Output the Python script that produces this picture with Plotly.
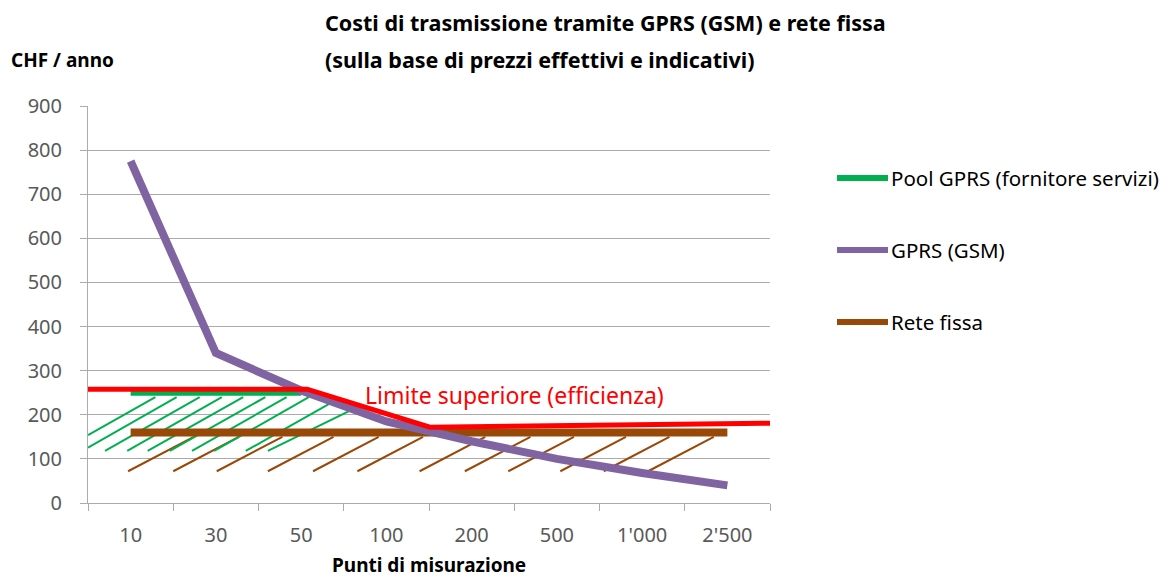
import plotly.graph_objects as go

# ---- data ----
categories = ["10", "30", "50", "100", "200", "500", "1'000", "2'500"]
gprs_gsm = [775, 340, 255, 185, 140, 100, 68, 40]
pool_gprs = [250, 250, 250]              # only 10, 30, 50
rete_fissa = [160, 160, 160, 160, 160, 160, 160, 160]

# upper limit (efficiency) line, in category-position units
limite_x = [-0.5, 2.07, 3.51, 7.5]
limite_y = [258, 258, 172, 181]

# hatching (decorative)
green_hatch_x0 = [-0.83, -0.57, -0.30, -0.04, 0.20, 0.46, 0.72, 0.98, 1.35, 1.61]
green_hatch_x1 = [0.29, 0.54, 0.81, 1.07, 1.32, 1.58, 1.83, 2.09, 2.35, 2.61]
green_hatch_y0 = [118] * 10
green_hatch_y1 = [240, 240, 240, 240, 240, 240, 240, 240, 227, 213]

brown_hatch_x0 = [-0.03, 0.50, 1.01, 1.61, 2.14, 2.66, 3.39, 3.92, 4.43, 5.04, 5.55, 6.07]
brown_hatch_x1 = [x + 0.77 for x in brown_hatch_x0]
brown_hatch_y0 = [72] * 12
brown_hatch_y1 = [150] * 12

GREEN = "#00b050"
PURPLE = "#8064a2"
BROWN = "#984807"
RED = "#ff0000"
GRID = "#ababab"
FONT = "Noto Sans, sans-serif"


def hatch_xy(x0s, y0s, x1s, y1s, xmin=-0.5):
    xs, ys = [], []
    for x0, y0, x1, y1 in zip(x0s, y0s, x1s, y1s):
        if x0 < xmin:
            t = (xmin - x0) / (x1 - x0)
            y0 = y0 + t * (y1 - y0)
            x0 = xmin
        xs += [x0, x1, None]
        ys += [y0, y1, None]
    return xs, ys


pos = list(range(len(categories)))
fig = go.Figure()

gx, gy = hatch_xy(green_hatch_x0, green_hatch_y0, green_hatch_x1, green_hatch_y1)
bx, by = hatch_xy(brown_hatch_x0, brown_hatch_y0, brown_hatch_x1, brown_hatch_y1)
fig.add_trace(go.Scatter(x=bx, y=by, mode="lines", line=dict(color=BROWN, width=2),
                         showlegend=False, hoverinfo="skip"))
fig.add_trace(go.Scatter(x=gx, y=gy, mode="lines", line=dict(color=GREEN, width=2),
                         showlegend=False, hoverinfo="skip"))

fig.add_trace(go.Scatter(x=pos, y=rete_fissa, mode="lines", name="Rete fissa",
                         line=dict(color=BROWN, width=8), showlegend=False))
fig.add_trace(go.Scatter(x=pos[:len(pool_gprs)], y=pool_gprs, mode="lines",
                         name="Pool GPRS (fornitore servizi)",
                         line=dict(color=GREEN, width=6), showlegend=False))
fig.add_trace(go.Scatter(x=pos, y=gprs_gsm, mode="lines", name="GPRS (GSM)",
                         line=dict(color=PURPLE, width=8), showlegend=False))
fig.add_trace(go.Scatter(x=limite_x, y=limite_y, mode="lines",
                         name="Limite superiore (efficienza)",
                         line=dict(color=RED, width=5), showlegend=False))

OFF = 8  # page body margin
L, R, T, B = 88 - OFF, 770 - OFF, 106 - OFF, 503 - OFF
W, H = 1169 - OFF, 581 - OFF


def px(x):
    return (x - OFF - L) / (R - L)


def py(y):
    return (B - (y - OFF)) / (B - T)


# manual legend
legend_items = [("Pool GPRS (fornitore servizi)", GREEN, 178),
                ("GPRS (GSM)", PURPLE, 250),
                ("Rete fissa", BROWN, 322)]
shapes = []
annotations = []
for label, col, yy in legend_items:
    shapes.append(dict(type="line", xref="paper", yref="paper",
                       x0=px(837), x1=px(888), y0=py(yy), y1=py(yy),
                       line=dict(color=col, width=6)))
    annotations.append(dict(text=label, xref="paper", yref="paper",
                            x=px(889), y=py(yy), xanchor="left", yanchor="middle",
                            showarrow=False, font=dict(family=FONT, size=20.5, color="#000000")))

annotations += [
    dict(text="<b>Costi di trasmissione tramite GPRS (GSM) e rete fissa</b>",
         xref="paper", yref="paper", x=px(323), y=py(22), xanchor="left", yanchor="middle",
         showarrow=False, font=dict(family=FONT, size=21.5, color="#000000")),
    dict(text="<b>(sulla base di prezzi effettivi e indicativi)</b>",
         xref="paper", yref="paper", x=px(323), y=py(60), xanchor="left", yanchor="middle",
         showarrow=False, font=dict(family=FONT, size=21.5, color="#000000")),
    dict(text="<b>CHF / anno</b>",
         xref="paper", yref="paper", x=px(9), y=py(60), xanchor="left", yanchor="middle",
         showarrow=False, font=dict(family=FONT, size=19, color="#000000")),
    dict(text="<b>Punti di misurazione</b>",
         xref="paper", yref="paper", x=0.5, y=py(565), xanchor="center", yanchor="middle",
         showarrow=False, font=dict(family=FONT, size=19, color="#000000")),
    dict(text="Limite superiore (efficienza)", xref="x", yref="y",
         x=2.73, y=245, xanchor="left", yanchor="middle", showarrow=False,
         font=dict(family=FONT, size=23, color=RED)),
]

fig.update_layout(
    width=W, height=H,
    margin=dict(l=L, r=W - R, t=T, b=H - B, autoexpand=False),
    paper_bgcolor="white", plot_bgcolor="white",
    font=dict(family=FONT, color="#595959"),
    shapes=shapes, annotations=annotations,
    showlegend=False,
)
fig.update_xaxes(
    range=[-0.5, 7.5], tickvals=pos, ticktext=categories,
    showgrid=False, zeroline=False,
    showline=True, linecolor=GRID, linewidth=1,
    ticks="", ticklabelstandoff=14,
    tickfont=dict(family=FONT, size=20, color="#595959"),
    minor=dict(tick0=-0.5, dtick=1, ticks="outside", ticklen=7, tickcolor=GRID, showgrid=False),
)
fig.update_yaxes(
    range=[0, 900], dtick=100, tick0=0,
    showgrid=True, gridcolor=GRID, gridwidth=1, zeroline=False,
    showline=True, linecolor=GRID, linewidth=1,
    ticks="outside", ticklen=7, tickcolor=GRID, ticklabelstandoff=14,
    tickfont=dict(family=FONT, size=20, color="#595959"),
)

fig.write_html("out.html")
